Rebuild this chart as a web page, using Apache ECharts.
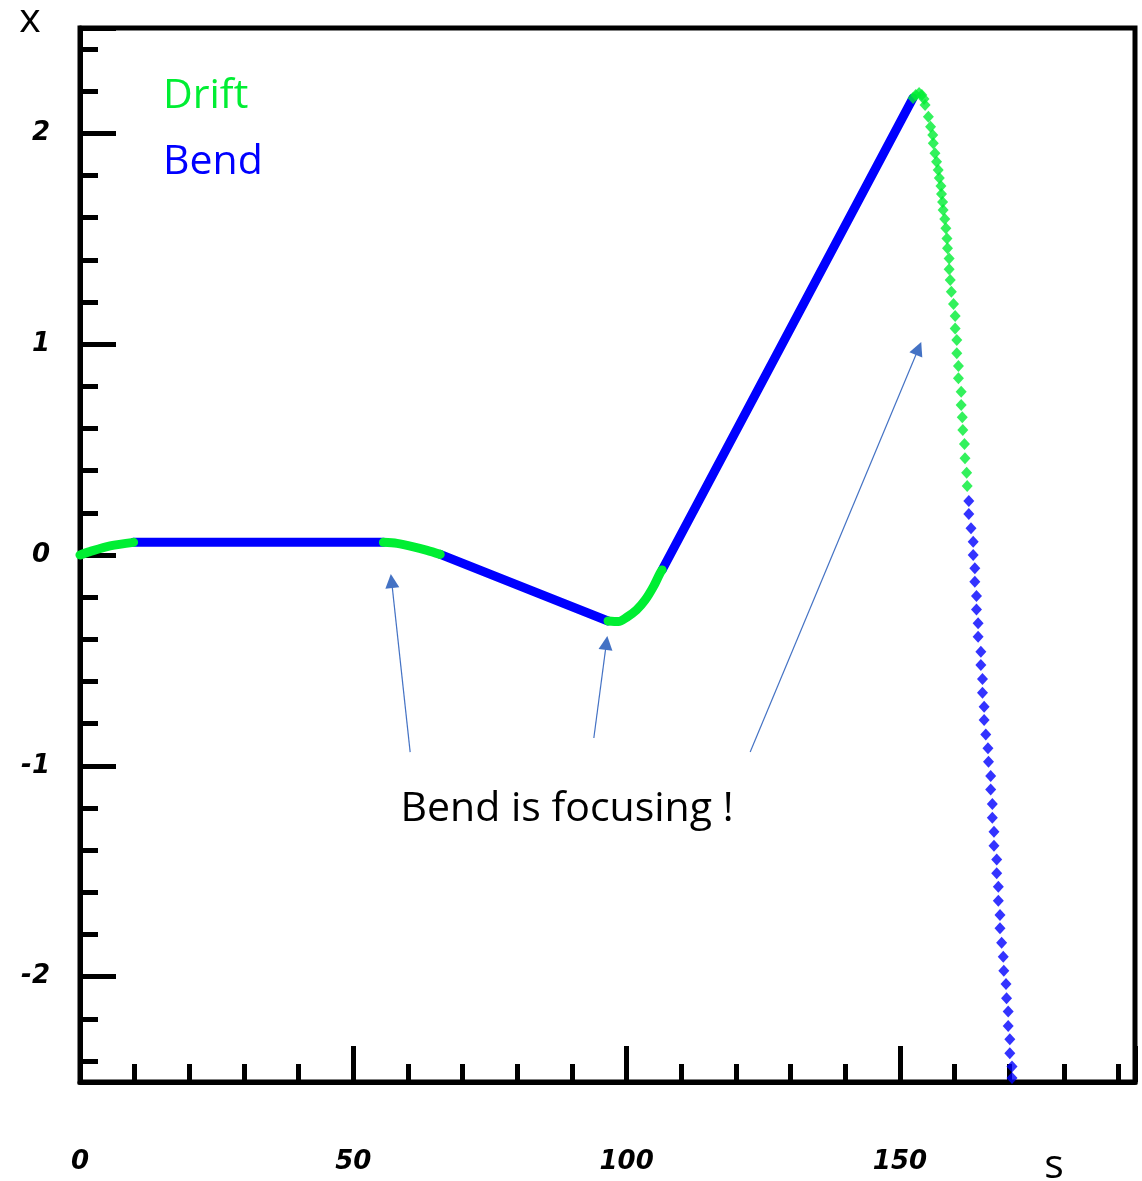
<!DOCTYPE html>
<html>
<head>
<meta charset="utf-8">
<script src="https://cdn.jsdelivr.net/npm/echarts@6/dist/echarts.min.js"></script>
<style>
  html, body { margin: 0; padding: 0; background: #fff; }
  #chart { width: 1142px; height: 1181px; }
</style>
</head>
<body>
<div id="chart"></div>
<script>
// axis ranges and tick labels
const sRange = [0, 193]
const xRange = [-2.5, 2.5]
const sTickLabels = [0, 50, 100, 150]
const xTickLabels = [-2, -1, 0, 1, 2]

// trajectory, [s, x]
const drift1 = [[0, 0], [1.8, 0.016], [5.5, 0.043], [9.8, 0.06]]
const bend1 = [[9.8, 0.06], [55.5, 0.06]]
const drift2 = [[55.5, 0.06], [58, 0.055], [61, 0.039], [63.5, 0.022], [65.9, 0.003]]
const bend2 = [[65.9, 0.003], [96.6, -0.313]]
const drift3 = [[96.6, -0.313], [98.5, -0.316], [100.0, -0.296], [101.8, -0.261], [103.4, -0.213],
  [104.9, -0.150], [106.1, -0.087], [106.5, -0.071]]
const bend3 = [[106.5, -0.071], [152.4, 2.168]]

// last drift and bend: single points are visible here
const drift4 = [
  [152.4, 2.168], [152.9, 2.182], [153.5, 2.192], [154.0, 2.182], [154.4, 2.163], [154.6, 2.135],
  [155.2, 2.079], [155.6, 2.032], [156.0, 1.992], [156.1, 1.953], [156.4, 1.906], [156.7, 1.866],
  [157.0, 1.826], [157.2, 1.788], [157.5, 1.750], [157.6, 1.713], [157.8, 1.675], [157.9, 1.637],
  [158.2, 1.594], [158.4, 1.550], [158.6, 1.502], [158.7, 1.455], [159.0, 1.407], [159.0, 1.355],
  [159.2, 1.305], [159.4, 1.249], [159.8, 1.191], [160.1, 1.134], [160.1, 1.075], [160.4, 1.020],
  [160.4, 0.957], [160.7, 0.897], [160.7, 0.838], [161.2, 0.775], [161.2, 0.712], [161.4, 0.653],
  [161.5, 0.593], [161.8, 0.527], [161.9, 0.459], [162.2, 0.390], [162.3, 0.327]
]
const bend4 = [
  [162.6, 0.256], [162.6, 0.195], [163.0, 0.127], [163.4, 0.063], [163.4, 0], [163.7, -0.063],
  [163.7, -0.127], [164.0, -0.195], [164.0, -0.258], [164.3, -0.324], [164.3, -0.388], [164.8, -0.459],
  [164.8, -0.522], [165.1, -0.588], [165.1, -0.653], [165.4, -0.720], [165.4, -0.783], [165.7, -0.851],
  [166.1, -0.917], [166.2, -0.981], [166.6, -1.048], [166.6, -1.112], [166.9, -1.181], [166.9, -1.246],
  [167.2, -1.313], [167.2, -1.379], [167.7, -1.444], [167.7, -1.510], [168.0, -1.574], [168.0, -1.640],
  [168.3, -1.708], [168.3, -1.771], [168.6, -1.839], [168.9, -1.906], [169.0, -1.972], [169.4, -2.035],
  [169.5, -2.103], [169.8, -2.166], [169.8, -2.234], [170.1, -2.297], [170.1, -2.364], [170.5, -2.427],
  [170.5, -2.481]
]

// annotation arrows: tail -> head
const arrowTails = [[60.4, -0.935], [94.0, -0.868], [122.6, -0.935]]
const arrowHeads = [[57.0, -0.123], [96.3, -0.417], [153.4, 0.980]]

const GREEN = '#00ee33'
const BLUE = '#0000ff'

const chart = echarts.init(document.getElementById('chart'))

const tickLabelStyle = {
  color: '#000',
  fontFamily: 'DejaVu Sans',
  fontStyle: 'italic',
  fontWeight: 'bold',
  fontSize: 26
}
const lineBlack = { color: '#000', width: 5 }

const segLine = (name, data, color, smooth) => ({
  name,
  type: 'line',
  data,
  showSymbol: false,
  smooth: smooth ? 0.3 : false,
  lineStyle: { width: 9, color, cap: 'round' },
  itemStyle: { color },
  z: 3
})

const dots = (name, data, color) => ({
  name,
  type: 'scatter',
  data,
  symbol: 'diamond',
  symbolSize: [11, 12],
  itemStyle: { color },
  z: 3
})

const bendWithArrows = segLine('Bend', bend1, BLUE, false)
bendWithArrows.markLine = {
  silent: true,
  animation: false,
  symbol: ['none', 'triangle'],
  symbolSize: 14,
  lineStyle: { color: '#4472c4', width: 1.2, type: 'solid' },
  label: { show: false },
  data: arrowTails.map((t, i) => [{ coord: t }, { coord: arrowHeads[i] }])
}

const option = {
  animation: false,
  backgroundColor: '#fff',
  grid: {
    left: 80, right: 7, top: 28, bottom: 99,
    show: true, borderColor: '#000', borderWidth: 5
  },
  legend: {
    orient: 'vertical',
    left: 153,
    top: 66,
    itemWidth: 0,
    itemHeight: 50,
    itemGap: 21,
    icon: 'none',
    selectedMode: false,
    textStyle: { fontFamily: 'Open Sans', fontSize: 41 },
    data: [
      { name: 'Drift', textStyle: { color: GREEN } },
      { name: 'Bend', textStyle: { color: BLUE } }
    ]
  },
  xAxis: [
    {
      type: 'value', min: sRange[0], max: sRange[1], interval: 50, position: 'bottom',
      axisLine: { onZero: false, lineStyle: lineBlack },
      axisTick: { inside: true, length: 36, lineStyle: lineBlack },
      axisLabel: Object.assign({
        margin: 67,
        formatter: v => (sTickLabels.includes(v) ? String(v) : '')
      }, tickLabelStyle),
      splitLine: { show: false }
    },
    {
      type: 'value', min: sRange[0], max: sRange[1], interval: 10, position: 'bottom',
      axisLine: { show: false, onZero: false },
      axisTick: { inside: true, length: 18, lineStyle: lineBlack },
      axisLabel: { show: false },
      splitLine: { show: false }
    }
  ],
  yAxis: [
    {
      type: 'value', min: xRange[0], max: xRange[1], splitNumber: 5, position: 'left',
      axisLine: { onZero: false, lineStyle: lineBlack },
      axisTick: { inside: true, length: 36, lineStyle: lineBlack },
      axisLabel: Object.assign({
        margin: 30,
        formatter: v => (xTickLabels.includes(v) ? String(v) : '')
      }, tickLabelStyle),
      splitLine: { show: false }
    },
    {
      type: 'value', min: xRange[0], max: xRange[1], splitNumber: 25, position: 'left',
      axisLine: { show: false, onZero: false },
      axisTick: { inside: true, length: 18, lineStyle: lineBlack },
      axisLabel: { show: false },
      splitLine: { show: false }
    }
  ],
  graphic: [
    {
      type: 'text', x: 30, y: 20,
      style: { text: 'x', font: '41px "Open Sans"', fill: '#000', textAlign: 'center', textVerticalAlign: 'middle' }
    },
    {
      type: 'text', x: 1054, y: 1166,
      style: { text: 's', font: '41px "Open Sans"', fill: '#000', textAlign: 'center', textVerticalAlign: 'middle' }
    },
    {
      type: 'text', x: 567, y: 809,
      style: { text: 'Bend is focusing !', font: '41px "Open Sans"', fill: '#000', textAlign: 'center', textVerticalAlign: 'middle' }
    }
  ],
  series: [
    bendWithArrows,
    segLine('Bend', bend2, BLUE, false),
    segLine('Bend', bend3, BLUE, false),
    segLine('Drift', drift1, GREEN, true),
    segLine('Drift', drift2, GREEN, true),
    segLine('Drift', drift3, GREEN, true),
    dots('Drift', drift4, GREEN),
    dots('Bend', bend4, BLUE)
  ]
}

chart.setOption(option)
</script>
</body>
</html>
